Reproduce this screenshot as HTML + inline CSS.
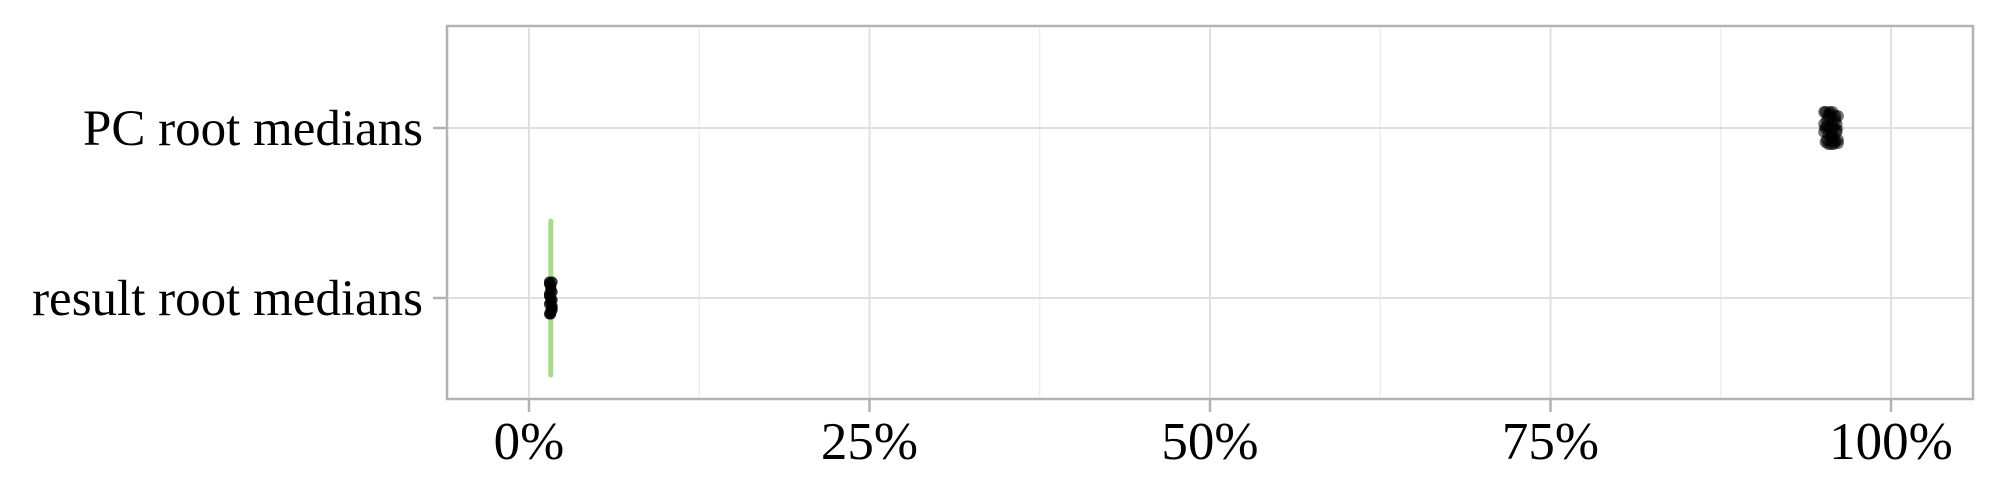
<!DOCTYPE html>
<html><head><meta charset="utf-8"><style>
html,body{margin:0;padding:0;background:#fff;}
svg{display:block;font-family:"Liberation Serif",serif;}
</style></head><body>
<svg id="chart" width="2000" height="500">
<rect x="447" y="26" width="1526" height="373" fill="#fff" stroke="#b3b3b3" stroke-width="2.5"/>
<g id="grid"></g><g id="marks"></g><g id="axes"></g>
</svg>
<script>
const categories = ["PC root medians", "result root medians"];
const xTicks = [0, 25, 50, 75, 100];
const xTickLabels = ["0%", "25%", "50%", "75%", "100%"];
const pcValues = [95.1, 95.2, 95.3, 95.4, 95.5, 95.6, 95.7, 95.8, 95.9, 96.0, 96.1, 95.1, 95.2, 95.4, 95.6, 95.8, 96.0, 96.1, 95.1, 95.3, 95.5, 95.7, 95.9, 96.1, 95.2, 95.6, 96.0, 95.4, 95.8, 95.5, 95.7, 95.3, 95.9, 95.6];
const pcJitter = [-16, 14, -8, 6, -14, 10, -2, 16, -12, 2, 12, 4, -16, 16, -10, 10, -4, -12, -4, 12, -16, 8, -8, 15, 0, 16, 4, -12, 0, 0, -16, -2, 14, 8];
const resultValues = [1.5, 1.6, 1.7, 1.6, 1.5, 1.7, 1.6, 1.5, 1.7, 1.6, 1.5, 1.7, 1.6, 1.6, 1.5, 1.7, 1.6, 1.6, 1.5, 1.7];
const resultJitter = [-14, 12, -6, 4, -16, 8, 0, 16, 10, -10, -4, 2, 16, -12, 6, -16, 14, -8, -2, 12];
const resultRange = [1.6, 1.6];
const pcRange = [94.9, 96.3];

const NS = "http://www.w3.org/2000/svg";
const x = v => 529 + (v / 100) * 1362;
const y = i => [128, 298][i];
function mk(tag, attrs, parent) {
  const el = document.createElementNS(NS, tag);
  for (const k in attrs) el.setAttribute(k, attrs[k]);
  document.getElementById(parent).appendChild(el);
  return el;
}
for (let i = 0; i < xTicks.length - 1; i++) {
  const m = (xTicks[i] + xTicks[i + 1]) / 2;
  const g = mk("line", {x1: x(m), x2: x(m), y1: 27, y2: 398, stroke: "#ececec", "stroke-width": 1.3}, "grid");
  
  
}
xTicks.forEach((t, i) => {
  const g = mk("line", {x1: x(t), x2: x(t), y1: 27, y2: 398, stroke: "#e0e0e0", "stroke-width": 2}, "grid");
  
  
  const tk = mk("line", {x1: x(t), x2: x(t), y1: 399, y2: 412, stroke: "#b3b3b3", "stroke-width": 2.5}, "axes");
  
  
  const tx = mk("text", {x: x(t), y: 459, "text-anchor": "middle", "font-size": 53, fill: "#000"}, "axes");
  tx.textContent = xTickLabels[i];
  
  
});
categories.forEach((c, i) => {
  const g = mk("line", {x1: 448, x2: 1972, y1: y(i), y2: y(i), stroke: "#e0e0e0", "stroke-width": 2}, "grid");
  
  
  const tk = mk("line", {x1: 433, x2: 447, y1: y(i), y2: y(i), stroke: "#b3b3b3", "stroke-width": 2.5}, "axes");
  
  
  const tx = mk("text", {x: 423, y: y(i) + 17, "text-anchor": "end", "font-size": 51, fill: "#000"}, "axes");
  tx.textContent = c;
  
  
});
const gv = mk("line", {x1: x(resultRange[0]), x2: x(resultRange[1]), y1: y(1) - 77, y2: y(1) + 77, stroke: "#a6dc8a", "stroke-width": 5, "stroke-linecap": "round"}, "marks");


const bv = mk("line", {x1: x(pcRange[0]), x2: x(pcRange[1]), y1: y(0), y2: y(0), stroke: "#7fb2dd", "stroke-width": 6, "stroke-linecap": "round"}, "marks");


pcValues.forEach((v, k) => {
  const p = mk("circle", {cx: x(v), cy: y(0) + pcJitter[k], r: 6, fill: "#000", "fill-opacity": 0.55}, "marks");
  
  
});
resultValues.forEach((v, k) => {
  const p = mk("circle", {cx: x(v), cy: y(1) + resultJitter[k], r: 5.5, fill: "#000", "fill-opacity": 0.8}, "marks");
  
  
});
</script>
</body></html>
